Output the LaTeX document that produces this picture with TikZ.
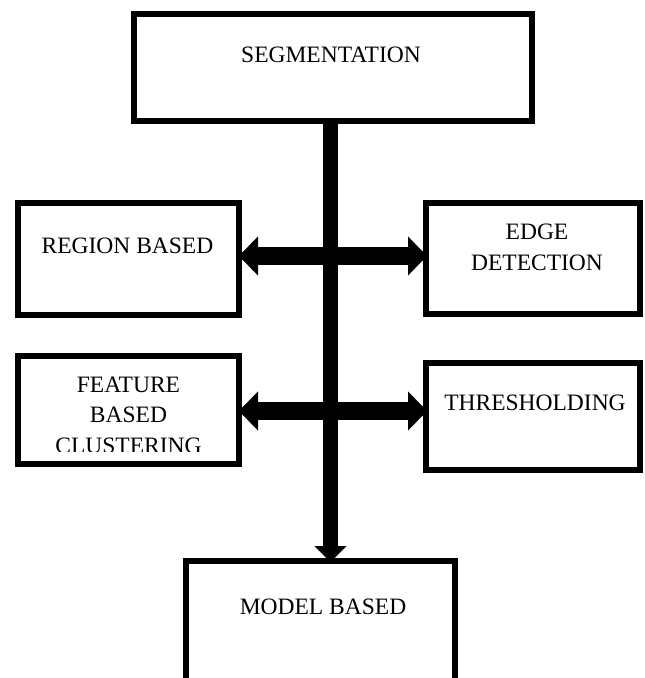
\documentclass[tikz,border=0pt]{standalone}
\usepackage{fontspec}
\setmainfont{Liberation Serif}
\usetikzlibrary{arrows.meta}
\begin{document}
\begin{tikzpicture}[x=1pt,y=-1pt,
  box/.style={draw=black,line width=6pt,fill=none,inner sep=0pt,minimum width=#1},
  lbl/.style={font=\fontsize{23.5}{30.5}\selectfont,inner sep=0pt,anchor=base,align=center},
  hbar/.style={line width=18pt,{Triangle[length=19pt,width=39pt,line width=0.1pt]}-{Triangle[length=19pt,width=39pt,line width=0.1pt]}},
  vbar/.style={line width=15pt,-{Triangle[length=16pt,width=32pt,line width=0.1pt]}}]
\useasboundingbox (0,0) rectangle (645,678);
\clip (0,0) rectangle (645,678);
% boxes
\node[box=398pt,minimum height=107pt] (seg) at (333,67.5) {};
\node[box=221pt,minimum height=112pt] (region) at (128.5,259) {};
\node[box=214pt,minimum height=111pt] (edge) at (533,258.5) {};
\node[box=221pt,minimum height=108pt] (feature) at (128.5,410) {};
\node[box=214pt,minimum height=107pt] (thresh) at (533,416.5) {};
\node[box=269pt,minimum height=139pt] (model) at (320.5,630.5) {};
% labels
\node[lbl] (tseg) at (331,62) {SEGMENTATION};
\node[lbl] (tregion) at (127.5,253) {REGION BASED};
\node[lbl] (tedge) at (537,270) {EDGE\\DETECTION};
\begin{scope}
\clip (18,356) rectangle (239,451);
\node[lbl] (tfeature) at (128.5,453) {FEATURE\\BASED\\CLUSTERING};
\end{scope}
\node[lbl] (tthresh) at (535,410) {THRESHOLDING};
\node[lbl] (tmodel) at (323,614) {MODEL BASED};
% connectors
\draw[vbar,shorten >=-4pt] ([xshift=-2.5pt]seg.south) -- ([xshift=10pt]model.north);
\draw[hbar,shorten <=-3pt,shorten >=-4pt] ([yshift=3pt]region.east) -- ([yshift=2.5pt]edge.west);
\draw[hbar,shorten <=-3pt,shorten >=-4pt] ([yshift=-1pt]feature.east) -- ([yshift=5.5pt]thresh.west);
\end{tikzpicture}
\end{document}
